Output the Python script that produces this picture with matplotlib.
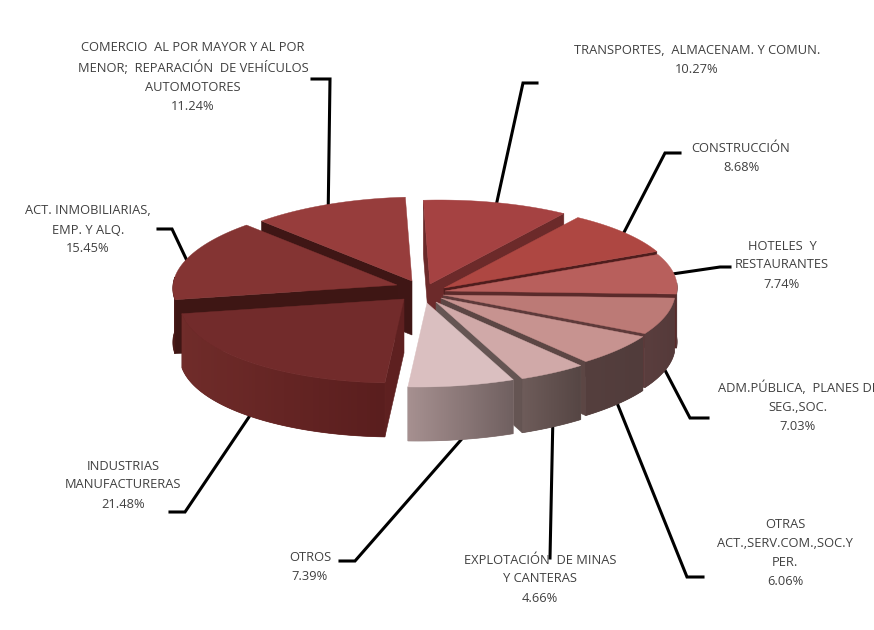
import matplotlib
matplotlib.use("Agg")
import matplotlib.pyplot as plt
import matplotlib.colors as mcolors
import numpy as np
from matplotlib.patches import Polygon

plt.rcParams['font.family'] = ['Open Sans', 'DejaVu Sans']

labels = [
    "TRANSPORTES,  ALMACENAM. Y COMUN.",
    "CONSTRUCCIÓN",
    "HOTELES  Y\nRESTAURANTES",
    "ADM.PÚBLICA,  PLANES DE\nSEG.,SOC.",
    "OTRAS\nACT.,SERV.COM.,SOC.Y\nPER.",
    "EXPLOTACIÓN  DE MINAS\nY CANTERAS",
    "OTROS",
    "INDUSTRIAS\nMANUFACTURERAS",
    "ACT. INMOBILIARIAS,\nEMP. Y ALQ.",
    "COMERCIO  AL POR MAYOR Y AL POR\nMENOR;  REPARACIÓN  DE VEHÍCULOS\nAUTOMOTORES",
]
values = [10.27, 8.68, 7.74, 7.03, 6.06, 4.66, 7.39, 21.48, 15.45, 11.24]

top_colors = ["#A54242", "#AE4742", "#B85F5C", "#BC7A76", "#C79390",
              "#D0A9A8", "#DABFC0", "#722B2B", "#843433", "#973D3C"]
wall_colors = ["#6C2A2A", "#4F1D1D", "#5A2A2A", "#5E3A3A", "#5C4644",
               "#655553", "#706060", "#5E2020", "#3E1614", "#3F1615"]
side_left = ["#6C2A2A", "#6C2A2A", "#5C3A3A", "#5A3E3E", "#553F3E",
             "#6E5C5A", "#A69090", "#702C2A", "#4A1A18", "#6A2422"]
side_right = ["#6C2A2A", "#6C2A2A", "#553636", "#553A3A", "#513C3B",
              "#564644", "#706060", "#5A1E1E", "#4A1A18", "#6A2422"]

# pixel position of each slice's apex
apex_x = [430, 444, 445, 443, 441, 436, 427, 404, 397, 412]
apex_y = [284, 288, 291, 295, 298, 302, 303, 299, 285, 281]

label_x = [697, 741, 782, 798, 785, 540, 310, 123, 88, 193]
label_y = [60, 158, 265, 407, 553, 579, 567, 485, 230, 77]
leader_x = [[523, 537], [665, 680], [720, 730], [690, 708], [687, 703],
            [550], [355, 340], [185, 170], [172, 158], [330, 312]]
leader_y = [[83, 83], [153, 153], [267, 267], [418, 418], [577, 577],
            [558], [561, 561], [512, 512], [229, 229], [79, 79]]

draw_order = [9, 0, 1, 8, 2, 3, 4, 5, 6, 7]

RX_RIGHT, RX_LEFT, RY, SHEAR, DEPTH = 232, 224, 84, 9, 54
START = -4.0


def rim(ax0, ay0, theta):
    t = np.radians(theta)
    s = np.sin(t)
    return ax0 + np.where(s > 0, RX_RIGHT, RX_LEFT) * s + SHEAR * np.cos(t), ay0 - RY * np.cos(t)


fig = plt.figure(figsize=(8.74, 6.3), dpi=100)
ax = fig.add_axes([0, 0, 1, 1])
ax.axis("off")

edges = START + np.concatenate([[0], np.cumsum(values)]) * 360 / sum(values)

for i in draw_order:
    a0, a1 = edges[i], edges[i + 1]
    px, py = apex_x[i], apex_y[i]
    th = np.linspace(a0, a1, 80)
    x, y = rim(px, py, th)

    # radial walls facing the viewer
    for a, visible in ((a0, np.sin(np.radians(a0)) < 0.0), (a1, np.sin(np.radians(a1)) > 0.0)):
        if visible:
            ex, ey = rim(px, py, a)
            ax.add_patch(Polygon([(px, py), (ex, ey), (ex, ey + DEPTH), (px, py + DEPTH)],
                                 closed=True, fc=wall_colors[i], ec=wall_colors[i], lw=0.4, zorder=1))

    # outer rim with a left to right gradient, clipped to its outline
    keep = np.cos(np.radians(th)) < 0.1
    if keep.sum() > 1:
        xs, ys = x[keep], y[keep]
        outline = np.column_stack([np.r_[xs, xs[::-1]], np.r_[ys, ys[::-1] + DEPTH]])
        c0 = np.array(mcolors.to_rgb(side_left[i]))
        c1 = np.array(mcolors.to_rgb(side_right[i]))
        grad = np.linspace(0, 1, 64)[None, :, None] * (c1 - c0) + c0
        shape = Polygon(outline, closed=True, fc=tuple((c0 + c1) / 2), ec=tuple((c0 + c1) / 2), lw=0.5, zorder=1)
        ax.add_patch(shape)
        im = ax.imshow(grad, extent=[xs.min(), xs.max(), ys.max() + DEPTH, ys.min()], aspect="auto", zorder=1)
        im.set_clip_path(shape)

    # top face
    ax.add_patch(Polygon(np.column_stack([np.r_[px, x], np.r_[py, y]]),
                         closed=True, fc=top_colors[i], ec=top_colors[i], lw=0.3, zorder=1))

ax.set_xlim(0, 874)
ax.set_ylim(630, 0)

# leader lines start on the rim, at each slice's mid angle
for i in range(len(values)):
    mid = 0.5 * (edges[i] + edges[i + 1])
    sx, sy = rim(apex_x[i], apex_y[i], mid)
    if np.cos(np.radians(mid)) < 0:
        sy += DEPTH
    ax.plot(np.r_[sx, leader_x[i]], np.r_[sy, leader_y[i]], color="black", lw=2.2,
            solid_joinstyle="miter", zorder=0.5)
    ax.text(label_x[i], label_y[i], f"{labels[i]}\n{values[i]:.2f}%", ha="center", va="center",
            fontsize=9.3, color="#404040", linespacing=1.6, zorder=5)

fig.savefig("out.png", dpi=100)
